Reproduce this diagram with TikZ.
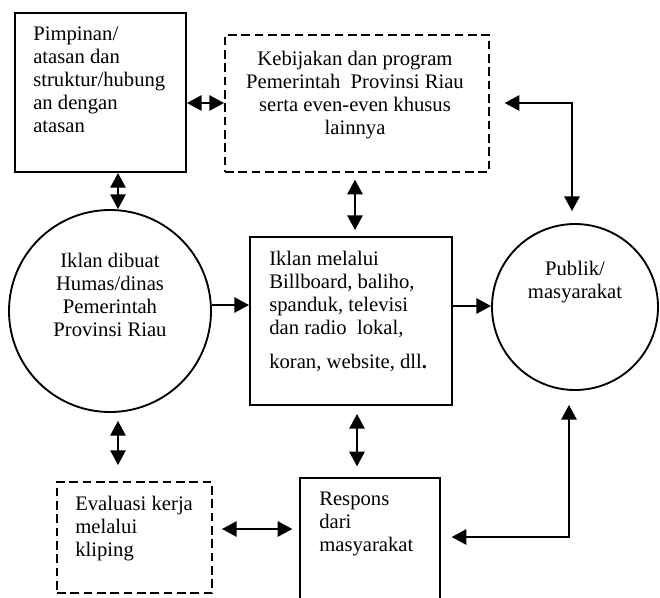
\documentclass[tikz,border=0pt]{standalone}
\usepackage{fontspec}
\setmainfont{Liberation Serif}
\usetikzlibrary{arrows.meta}
\begin{document}
\begin{tikzpicture}[x=0.75pt,y=-0.75pt,
  box/.style={draw, line width=1.5pt, rectangle, inner sep=0pt, anchor=north west},
  dbox/.style={box, dash pattern=on 6.5pt off 3.5pt},
  circ/.style={draw, line width=1.4pt, circle, inner sep=0pt},
  txt/.style={inner sep=0pt, font=\fontsize{15.5}{17.3}\selectfont},
  tip/.tip={Triangle[length=11pt,width=11.5pt]},
  conn/.style={line width=1.3pt, -tip},
  biconn/.style={line width=1.3pt, tip-tip}
]
\clip (0,0) rectangle (660,597);
\fill[white] (0,0) rectangle (660,597);

% shapes
\node[box, minimum width=128.25pt, minimum height=119.25pt] (b1) at (14,12) {};
\node[dbox, minimum width=198pt, minimum height=102.75pt] (b2) at (224,34) {};
\node[circ, minimum size=151.5pt] (c1) at (110,311) {};
\node[box, minimum width=151.5pt, minimum height=126pt] (b3) at (249,236) {};
\node[circ, minimum size=124.5pt] (c2) at (575,307) {};
\node[dbox, minimum width=116.25pt, minimum height=83.25pt] (ev) at (56,481) {};
\node[box, minimum width=105pt, minimum height=110pt] (rs) at (299,477) {};

% texts
\node[txt, anchor=base west] (t1) at (33,40.7) {\begin{tabular}[t]{@{}l@{}}Pimpinan/\\atasan dan\\struktur/hubung\\an dengan\\atasan\end{tabular}};
\node[txt, anchor=base] (t2) at (355,65) {\begin{tabular}[t]{@{}c@{}}Kebijakan dan program\\Pemerintah\ \ Provinsi Riau\\serta even-even khusus\\lainnya\end{tabular}};
\node[txt, anchor=base] (t3) at (110,267) {\begin{tabular}[t]{@{}c@{}}Iklan dibuat\\Humas/dinas\\Pemerintah\\Provinsi Riau\end{tabular}};
\node[txt, anchor=base west] (t4) at (269,265) {\begin{tabular}[t]{@{}l@{}}Iklan melalui\\Billboard, baliho,\\spanduk, televisi\\dan radio\ \ lokal,\\[8.5pt]koran, website, dll\textbf{.}\end{tabular}};
\node[txt, anchor=base] (t5) at (575,275) {\begin{tabular}[t]{@{}c@{}}Publik/\\masyarakat\end{tabular}};
\node[txt, anchor=base west] (t6) at (75,510) {\begin{tabular}[t]{@{}l@{}}Evaluasi kerja\\melalui\\kliping\end{tabular}};
\node[txt, anchor=base west] (t7) at (319,505) {\begin{tabular}[t]{@{}l@{}}Respons\\dari\\masyarakat\end{tabular}};

% helper coordinates
\coordinate (h1) at (0,103);
\coordinate (v1) at (118,0);
\coordinate (v2) at (355,0);
\coordinate (v3) at (357,0);
\coordinate (h2) at (0,305);
\coordinate (h3) at (0,306);
\coordinate (h4) at (0,529);
\coordinate (k1) at (572,103);
\coordinate (k2) at (569,537);

% connectors
\draw[biconn] (b1.east |- h1) -- (b2.west |- h1);
\draw[biconn] (v1 |- b1.south) -- (v1 |- c1.north);
\draw[biconn, shorten <=6pt, shorten >=12pt] (v1 |- c1.south) -- (v1 |- ev.north);
\draw[biconn, shorten <=5pt, shorten >=4.5pt] (v2 |- b2.south) -- (v2 |- b3.north);
\draw[conn] (h2 -| c1.east) -- (h2 -| b3.west);
\draw[conn] (h3 -| b3.east) -- (h3 -| c2.west);
\draw[biconn, shorten <=11pt, shorten >=9pt] (b2.east |- k1) -- (k1) -- (k1 |- c2.north);
\draw[biconn, shorten <=10.5pt, shorten >=8pt] (k2 |- c2.south) -- (k2) -- (rs.east |- k2);
\draw[biconn, shorten <=6.75pt, shorten >=5pt] (ev.east |- h4) -- (rs.west |- h4);
\draw[biconn, shorten <=6pt, shorten >=8pt] (v3 |- b3.south) -- (v3 |- rs.north);
\end{tikzpicture}
\end{document}
